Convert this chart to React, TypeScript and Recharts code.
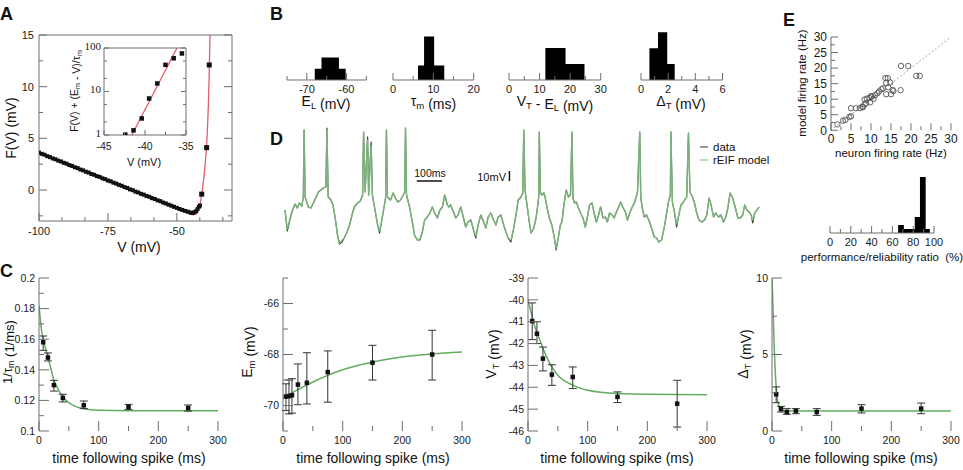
import React from 'react';
import { ComposedChart, Line, Scatter, XAxis, YAxis, Area, ErrorBar, ReferenceLine } from 'recharts';

const FONT = "'Liberation Sans', Arial, Helvetica, sans-serif";
const SERIF = "'Liberation Serif', 'Times New Roman', serif";
const AX = '#6e6e6e';
const GREEN = '#62ad5e';
const RED = '#e35d6a';

// ---------------- Panel A: F(V) ----------------
const aDots: number[][] = [
  [-100, 3.62], [-99, 3.5], [-98, 3.41], [-97, 3.27], [-96, 3.18], [-95, 3.05], [-94, 2.97], [-93, 2.84],
  [-92, 2.76], [-91, 2.63], [-90, 2.55], [-89, 2.41], [-88, 2.33], [-87, 2.2], [-86, 2.12], [-85, 1.98],
  [-84, 1.9], [-83, 1.77], [-82, 1.69], [-81, 1.55], [-80, 1.47], [-79, 1.34], [-78, 1.27], [-77, 1.13],
  [-76, 1.05], [-75, 0.92], [-74, 0.84], [-73, 0.71], [-72, 0.62], [-71, 0.5], [-70, 0.41], [-69, 0.28],
  [-68, 0.2], [-67, 0.06], [-66, -0.02], [-65, -0.16], [-64, -0.24], [-63, -0.37], [-62, -0.45], [-61, -0.58],
  [-60, -0.66], [-59, -0.79], [-58, -0.87], [-57, -1.0], [-56, -1.08], [-55, -1.21], [-54, -1.3], [-53, -1.42],
  [-52, -1.52], [-51, -1.63], [-50, -1.73], [-49, -1.84], [-48, -1.93], [-47, -2.03], [-46, -2.1], [-45, -2.18],
  [-44.3, -2.22], [-43.6, -2.15], [-43, -2.05], [-42.5, -1.85], [-42, -1.62], [-41.6, -1.5],
];
const aBig: number[][] = [[-41.0, -0.4], [-39.2, 4.1], [-38.25, 12.1]];
const aFit: number[][] = [
  [-100, 3.55], [-90, 2.48], [-80, 1.4], [-70, 0.33], [-60, -0.75], [-55, -1.3], [-50, -1.82], [-47, -2.15],
  [-45, -2.35], [-44, -2.4], [-43, -2.3], [-42.3, -2.0], [-41.8, -1.55], [-41.3, -0.95], [-41, -0.45],
  [-40.5, 0.55], [-40, 1.7], [-39.6, 2.9], [-39.2, 4.3], [-38.9, 5.9], [-38.6, 8.0], [-38.3, 11.0],
  [-38.05, 13.8], [-37.8, 16.5],
];
const aTicksX = [-100, -91.67, -83.33, -75, -66.67, -58.33, -50, -41.67, -33.33];
const aMajX = [-100, -75, -50];
const aTicksY = [-2.5, 0, 2.5, 5, 7.5, 10, 12.5, 15];
const aMajY = [0, 5, 10, 15];

// inset
const insPts: number[][] = [[-42.4, 1.02], [-41.4, 1.28], [-40.4, 2.4], [-39.5, 6.9], [-38.5, 15.3], [-37.5, 41], [-36.5, 58], [-35.5, 75]];
const insFit: number[][] = [[-41.6, 1], [-36.1, 100]];
const insTicksX = [-45, -42.5, -40, -37.5, -35];
const insMajX = [-45, -40, -35];
const insTicksY = [1, 2, 5, 10, 20, 50, 100];
const insMajY = [1, 10, 100];

// ---------------- Panel B: histograms (bin start, count) ----------------
const bEL: number[][] = [[-68, 1], [-66.3, 2], [-61.9, 1], [-60.2, 0]];
const bTau: number[][] = [[6.2, 1], [7.7, 3], [10.2, 1], [12.7, 0]];
const bVT: number[][] = [[11.9, 2], [18.5, 1], [24.7, 0]];
const bDT: number[][] = [[0.62, 2], [1.25, 3], [1.93, 1], [2.48, 0]];
const eHist: number[][] = [[65.5, 2], [71, 1], [76, 1], [81.5, 4], [86.5, 14], [92, 1], [96, 0]];

// ---------------- Panel D: voltage trace ----------------
const traceT = [
  8, 17, 35, 48, 57, 65, 75, 81, 84, 88,
  101, 111, 121, 132, 141, 151, 161, 171, 175, 180,
  191, 199, 208, 217, 225, 235, 244, 255, 265, 275,
  284, 297, 308, 317, 321, 327, 337, 341, 351, 356,
  368, 377, 385, 395, 404, 409, 412, 416, 428, 439,
  448, 457, 468, 479, 485, 488, 492, 505, 515, 524,
  535, 545, 555, 564, 575, 585, 595, 604, 615, 625,
  635, 644, 655, 661, 668, 679, 688, 697, 708, 719,
  728, 737, 748, 759, 768, 777, 788, 799, 808, 817,
  828, 839, 848, 857, 868, 879, 888, 897, 908, 919,
  928, 937, 948, 955, 959, 964, 972, 981, 988, 999,
  1008, 1015, 1019, 1021, 1025, 1031, 1039, 1044, 1052, 1061,
  1071, 1081, 1088, 1095, 1105, 1111, 1119, 1128, 1137, 1145,
  1151, 1155, 1161, 1168, 1177, 1185, 1195, 1204, 1212, 1221,
  1231, 1239, 1248, 1257, 1265, 1275, 1284, 1292, 1301, 1311,
  1319, 1328, 1337, 1345, 1355, 1364, 1372, 1381, 1391, 1401,
  1412, 1421, 1425, 1431, 1439, 1448, 1457, 1468, 1479, 1488,
  1497, 1508, 1519, 1528, 1537, 1543, 1545, 1551, 1559, 1568,
  1575, 1585, 1595, 1608, 1615, 1621, 1631, 1639, 1648, 1657,
  1668, 1679, 1688, 1697, 1705, 1715, 1724, 1735, 1745, 1755,
  1764, 1772, 1781, 1791, 1801, 1812, 1821, 1831, 1839, 1848,
  1857, 1865, 1871, 1879, 1888, 1897,
];
const traceData = [
  -50, -71, -52, -44, -48, -43, -46, -37, 30, -37,
  -47, -48, -43, -37, -32, -30, -28, -27, 32, -37,
  -40, -45, -58, -75, -84, -82, -78, -72, -65, -55,
  -47, -43, -41, -35, 28, -32, 23, -35, 18, -35,
  -52, -65, -73, -58, -45, -37, 30, -37, -40, -33,
  -38, -42, -40, -35, -32, 32, -35, -48, -62, -75,
  -80, -80, -72, -60, -57, -53, -47, -53, -58, -50,
  -47, -35, -45, -47, -45, -52, -58, -55, -47, -58,
  -67, -62, -60, -70, -78, -65, -55, -62, -68, -57,
  -53, -60, -65, -57, -55, -65, -72, -78, -82, -68,
  -55, -40, -37, -33, 30, -30, -45, -62, -73, -68,
  -58, -45, -35, 28, -32, -35, -33, -37, -48, -58,
  -65, -78, -90, -80, -65, -62, -45, -30, -37, -35,
  28, -38, -43, -42, -48, -53, -58, -67, -58, -45,
  -43, -53, -62, -55, -47, -58, -57, -62, -53, -55,
  -58, -52, -47, -42, -48, -52, -60, -53, -47, -42,
  -32, 28, -37, -48, -57, -55, -60, -68, -77, -78,
  -82, -80, -67, -53, -40, -35, 28, -42, -52, -67,
  -57, -45, -42, -37, 27, -32, -37, -43, -53, -60,
  -62, -60, -55, -38, -45, -57, -53, -57, -55, -62,
  -57, -48, -33, -38, -47, -58, -58, -55, -45, -50,
  -52, -55, -63, -53, -50, -47,
];
const traceModel = [
  -50, -69, -52, -44, -48, -43, -46, -37, 29, -37,
  -47, -48, -43, -37, -32, -30, -28, -27, 30, -37,
  -40, -45, -58, -75, -83, -80, -78, -72, -65, -55,
  -47, -43, -41, -35, 28, -32, 20, -35, 14, -35,
  -52, -65, -71, -58, -45, -37, 30, -37, -40, -33,
  -38, -42, -40, -35, -32, 32, -35, -48, -62, -75,
  -80, -79, -72, -60, -57, -53, -47, -53, -58, -50,
  -47, -35, -45, -47, -45, -52, -58, -55, -47, -58,
  -67, -62, -60, -70, -76, -65, -55, -62, -68, -57,
  -53, -60, -65, -57, -55, -65, -72, -78, -80, -68,
  -55, -40, -37, -33, 30, -30, -45, -62, -73, -68,
  -58, -45, -35, 28, -32, -35, -33, -37, -48, -58,
  -65, -78, -88, -80, -65, -62, -45, -30, -37, -35,
  28, -38, -43, -42, -48, -53, -58, -67, -58, -45,
  -43, -53, -62, -55, -47, -58, -57, -62, -53, -55,
  -58, -52, -47, -42, -48, -52, -60, -53, -47, -42,
  -32, 28, -37, -48, -57, -55, -60, -68, -77, -78,
  -82, -80, -67, -53, -40, -35, 28, -42, -52, -64,
  -57, -45, -42, -37, 27, -32, -37, -43, -53, -60,
  -62, -60, -55, -38, -45, -57, -53, -57, -55, -62,
  -57, -48, -33, -38, -47, -58, -58, -55, -45, -50,
  -52, -55, -60, -53, -50, -47,
];
const scaleBar100 = { t0: 533, t1: 633, v: -21 };
const scaleBar10 = { t: 902, v0: -21, v1: -11 };

// ---------------- Panel E: firing rates ----------------
const ePts: number[][] = [
  [1.6, 1.9], [3.0, 3.1], [3.6, 3.3], [4.6, 4.3], [5.0, 4.5], [5.0, 7.1], [6.2, 7.1], [7.2, 7.1], [7.8, 7.6],
  [8.0, 7.4], [8.4, 8.3], [8.8, 8.7], [8.4, 9.9], [9.0, 10.2], [9.8, 9.0], [9.6, 10.4], [10.2, 10.8],
  [10.6, 10.1], [10.0, 11.0], [11.0, 11.3], [11.6, 11.9], [12.0, 12.5], [12.6, 13.2], [13.0, 13.5],
  [13.6, 16.8], [14.2, 16.8], [13.8, 15.2], [14.8, 15.4], [13.8, 11.6], [15.0, 11.6], [15.4, 13.0],
  [14.3, 13.8], [15.6, 12.6], [17.4, 12.9], [17.5, 20.7], [19.3, 20.7], [21.3, 17.5], [22.2, 17.5],
];
const eDiag: number[][] = [[0, 0], [30, 30]];
const eTicks = [0, 2.5, 5, 7.5, 10, 12.5, 15, 17.5, 20, 22.5, 25, 27.5, 30];
const eMaj = [0, 5, 10, 15, 20, 25, 30];

// ---------------- Panel C: parameters vs time after spike [t, value, low, high] ----------------
const c1Pts: number[][] = [
  [7, 0.158, 0.1527, 0.1621], [15, 0.148, 0.1458, 0.151], [25, 0.13, 0.1261, 0.1331], [40, 0.1216, 0.119, 0.124],
  [75, 0.1168, 0.1146, 0.1196], [150, 0.1157, 0.114, 0.1174], [250, 0.115, 0.113, 0.117],
];
const c1Fit: number[][] = [
  [0, 0.182], [5, 0.1636], [10, 0.1553], [15, 0.1484], [20, 0.1407], [25, 0.1331], [30, 0.1288], [40, 0.1222],
  [50, 0.1185], [60, 0.1163], [70, 0.115], [80, 0.1142], [100, 0.1135], [150, 0.1133], [300, 0.1133],
];
const c2Pts: number[][] = [
  [5, -69.65, -70.2, -69.15], [10, -69.63, -70.33, -69.0], [15, -69.6, -70.3, -68.95], [25, -69.18, -69.97, -68.37],
  [40, -69.11, -69.94, -67.93], [75, -68.69, -69.87, -67.86], [150, -68.32, -69.0, -67.64], [250, -68.0, -69.0, -67.05],
];
const c2Fit: number[][] = [
  [0, -69.7], [10, -69.57], [25, -69.38], [50, -69.08], [75, -68.82], [100, -68.6], [125, -68.43], [150, -68.3],
  [175, -68.19], [200, -68.1], [250, -67.98], [300, -67.9],
];
const c3Pts: number[][] = [
  [7, -40.97, -41.82, -40.14], [15, -41.55, -42.0, -41.0], [25, -42.69, -43.25, -42.16], [40, -43.42, -43.91, -42.97],
  [75, -43.53, -44.06, -43.07], [150, -44.44, -44.7, -44.21], [250, -44.75, -45.82, -43.68],
];
const c3Fit: number[][] = [
  [0, -40.0], [5, -40.55], [10, -41.1], [20, -41.85], [30, -42.54], [40, -43.07], [50, -43.45], [75, -43.9],
  [100, -44.14], [150, -44.29], [200, -44.32], [300, -44.34],
];
const c4Pts: number[][] = [
  [7, 2.4, 1.85, 2.88], [15, 1.44, 1.24, 1.61], [25, 1.24, 1.09, 1.46], [40, 1.31, 1.13, 1.46],
  [75, 1.24, 1.02, 1.46], [150, 1.46, 1.18, 1.72], [250, 1.46, 1.13, 1.83],
];
const c4Fit: number[][] = [
  [0, 10], [2, 7.6], [4, 5.2], [6, 3.5], [8, 2.4], [10, 1.85], [13, 1.5], [16, 1.38], [20, 1.32], [30, 1.3], [300, 1.3],
];
const cTicksX = [0, 50, 100, 150, 200, 250, 300];
const cMajX = [0, 100, 200, 300];

// ---------------- helpers ----------------
const xy = (a: number[][]) => a.map((p) => ({ x: p[0], y: p[1] }));
const withErr = (a: number[][]) => a.map((p) => ({ x: p[0], y: p[1], e: [p[1] - p[2], p[3] - p[1]] }));
const near = (v: number, arr: number[]) => arr.some((a) => Math.abs(a - v) < 1e-6);

type TOpt = { labels?: boolean; fs?: number; gap?: number; font?: string; dy?: number };
function mkTick(side: string, majors: number[], maj: number, min: number, o: TOpt = {}) {
  const fs = o.fs ?? 11;
  const gap = o.gap ?? 4;
  const font = o.font ?? FONT;
  return (p: any) => {
    const v = Number(p.payload?.value);
    const isMaj = near(v, majors);
    const L = isMaj ? maj : min;
    const x = Number(p.x);
    const y = Number(p.y);
    const show = !!o.labels && isMaj;
    const txt = String(v);
    if (side === 'b')
      return (
        <g>
          <line x1={x} x2={x} y1={y} y2={y - L} stroke={AX} strokeWidth={1} />
          {show ? (
            <text x={x} y={y + gap + fs * 0.72} textAnchor="middle" fontSize={fs} fontFamily={font} fill="#1a1a1a">{txt}</text>
          ) : null}
        </g>
      );
    if (side === 't') return <g><line x1={x} x2={x} y1={y} y2={y + L} stroke={AX} strokeWidth={1} /></g>;
    if (side === 'l')
      return (
        <g>
          <line x1={x} x2={x + L} y1={y} y2={y} stroke={AX} strokeWidth={1} />
          {show ? (
            <text x={x - gap} y={y + fs * 0.36 + (o.dy ?? 0)} textAnchor="end" fontSize={fs} fontFamily={font} fill="#1a1a1a">{txt}</text>
          ) : null}
        </g>
      );
    return <g><line x1={x} x2={x - L} y1={y} y2={y} stroke={AX} strokeWidth={1} /></g>;
  };
}

// axes get a 1px size (0 would stop Recharts from drawing them); Frame removes that pixel from the margin
function xAx(id: string, orient: 'bottom' | 'top', domain: number[], ticks: number[], tick: any, line: boolean, dataKey?: string) {
  return (
    <XAxis key={'x' + id} xAxisId={id} orientation={orient} type="number" dataKey={dataKey} domain={domain as any}
      ticks={ticks} interval={0} tick={tick} tickLine={false} tickSize={0} tickMargin={0} height={1}
      axisLine={line ? { stroke: AX } : false} allowDataOverflow />
  );
}
function yAx(id: string, orient: 'left' | 'right', domain: number[], ticks: number[], tick: any, line: boolean, dataKey?: string, scale?: any) {
  return (
    <YAxis key={'y' + id} yAxisId={id} orientation={orient} type="number" dataKey={dataKey} domain={domain as any}
      ticks={ticks} interval={0} tick={tick} tickLine={false} tickSize={0} tickMargin={0} width={1}
      axisLine={line ? { stroke: AX } : false} allowDataOverflow scale={scale ?? 'auto'} />
  );
}

function Frame(props: { box: number[]; pad: number[]; ax?: string; children: React.ReactNode }) {
  const [x0, y0, x1, y1] = props.box;
  const [l, t, r, b] = props.pad;
  const ax = props.ax ?? '';
  const w = x1 - x0 + l + r;
  const h = y1 - y0 + t + b;
  const m = {
    top: t - (ax.includes('t') ? 1 : 0),
    right: r - (ax.includes('r') ? 1 : 0),
    bottom: b - (ax.includes('b') ? 1 : 0),
    left: l - (ax.includes('l') ? 1 : 0),
  };
  return (
    <div style={{ position: 'absolute', left: x0 - l, top: y0 - t, width: w, height: h }}>
      <ComposedChart width={w} height={h} margin={m}>
        {props.children}
      </ComposedChart>
    </div>
  );
}

const sq = (s: number, fill = '#111') => (p: any) => (
  <rect x={p.cx - s / 2} y={p.cy - s / 2} width={s} height={s} fill={fill} />
);
const ring = (p: any) => <circle cx={p.cx} cy={p.cy} r={2.7} fill="none" stroke="#555" strokeWidth={0.9} />;

function Hist(props: { box: number[]; xd: number[]; ticks: number[]; majors: number[]; rows: number[][]; ymax: number }) {
  return (
    <Frame box={props.box} pad={[14, 2, 14, 22]} ax="b">
      {xAx('b', 'bottom', props.xd, props.ticks, mkTick('b', props.majors, 7, 4, { labels: true, fs: 11, gap: 5 }), true, 'x')}
      <YAxis yAxisId="l" type="number" dataKey="y" domain={[0, props.ymax]} hide allowDataOverflow />
      <Area xAxisId="b" yAxisId="l" data={xy(props.rows)} dataKey="y" type="stepAfter" fill="#000" fillOpacity={1}
        stroke="none" baseValue={0} isAnimationActive={false} />
    </Frame>
  );
}

function CPanel(props: { x0: number; pts: number[][]; fit: number[][]; yd: number[]; yt: number[]; ym: number[] }) {
  return (
    <Frame box={[props.x0, 277.7, props.x0 + 179, 430.7]} pad={[40, 10, 16, 30]} ax="bl">
      {xAx('b', 'bottom', [0, 300], cTicksX, mkTick('b', cMajX, 10, 5, { labels: true, fs: 10.5, gap: 5 }), false, 'x')}
      {yAx('l', 'left', props.yd, props.yt, mkTick('l', props.ym, 10, 5, { labels: true, fs: 10.5, gap: 4 }), true, 'y')}
      <Line xAxisId="b" yAxisId="l" data={xy(props.fit)} dataKey="y" type="monotone" stroke={GREEN} strokeWidth={1.5}
        dot={false} isAnimationActive={false} />
      <Scatter xAxisId="b" yAxisId="l" data={withErr(props.pts)} dataKey="y" shape={sq(4.5)} isAnimationActive={false}>
        <ErrorBar dataKey="e" direction="y" width={4} stroke="#333" strokeWidth={1} />
      </Scatter>
    </Frame>
  );
}

const Sub = (p: { t: string }) => (
  <>
    <tspan fontSize="0.68em" dy="0.28em">{p.t}</tspan>
    <tspan dy="-0.28em">{''}</tspan>
  </>
);

export default function App() {
  const traceRows = traceT.map((t, i) => ({ t, d: traceData[i], m: traceModel[i] }));
  const txt = { fontFamily: FONT, fill: '#111' } as any;
  return (
    <div style={{ position: 'absolute', left: 0, top: 0, width: 963, height: 470, background: '#fff', overflow: 'hidden' }}>
      {/* A main */}
      <Frame box={[39, 35, 232, 221]} pad={[39, 35, 20, 30]} ax="btlr">
        {xAx('b', 'bottom', [-100, -30], aTicksX, mkTick('b', aMajX, 8, 4, { labels: true, fs: 11, gap: 6 }), true, 'x')}
        {xAx('t', 'top', [-100, -30], aTicksX, mkTick('t', aMajX, 8, 4), true)}
        {yAx('l', 'left', [-3, 15], aTicksY, mkTick('l', aMajY, 8, 4, { labels: true, fs: 11, gap: 5 }), true, 'y')}
        {yAx('r', 'right', [-3, 15], aTicksY, mkTick('r', aMajY, 8, 4), true)}
        <Line xAxisId="b" yAxisId="l" data={xy(aFit)} dataKey="y" type="monotone" stroke={RED} strokeWidth={1.3}
          dot={false} isAnimationActive={false} />
        <Scatter xAxisId="b" yAxisId="l" data={xy(aDots)} dataKey="y" shape={sq(4)} isAnimationActive={false} />
        <Scatter xAxisId="b" yAxisId="l" data={xy(aBig)} dataKey="y" shape={sq(5)} isAnimationActive={false} />
      </Frame>

      {/* A inset */}
      <div style={{ position: 'absolute', left: 104, top: 48, width: 82, height: 87, background: '#fff' }} />
      <Frame box={[104, 48, 186, 135]} pad={[22, 12, 10, 22]} ax="btlr">
        {xAx('b', 'bottom', [-45, -35], insTicksX, mkTick('b', insMajX, 5, 3, { labels: true, fs: 10.5, gap: 7 }), true, 'x')}
        {xAx('t', 'top', [-45, -35], insTicksX, mkTick('t', insMajX, 5, 3), true)}
        {yAx('l', 'left', [1, 100], insTicksY, mkTick('l', insMajY, 5, 3, { labels: true, fs: 11, gap: 3, font: SERIF, dy: -2 }), true, 'y', 'log')}
        {yAx('r', 'right', [1, 100], insTicksY, mkTick('r', insMajY, 5, 3), true, undefined, 'log')}
        <Line xAxisId="b" yAxisId="l" data={xy(insFit)} dataKey="y" type="linear" stroke={RED} strokeWidth={1.3}
          dot={false} isAnimationActive={false} />
        <Scatter xAxisId="b" yAxisId="l" data={xy(insPts)} dataKey="y" shape={sq(4.5)} isAnimationActive={false} />
      </Frame>

      {/* B histograms */}
      <Hist box={[286.7, 20, 366, 80]} xd={[-75, -55]} ticks={[-75, -70, -65, -60, -55]} majors={[-70, -60]} rows={bEL} ymax={5.36} />
      <Hist box={[393.3, 20, 474, 80]} xd={[0, 20]} ticks={[0, 5, 10, 15, 20]} majors={[0, 10, 20]} rows={bTau} ymax={4.14} />
      <Hist box={[509.3, 20, 601, 80]} xd={[0, 30]} ticks={[0, 5, 10, 15, 20, 25, 30]} majors={[0, 10, 20, 30]} rows={bVT} ymax={3.75} />
      <Hist box={[640.5, 20, 722, 80]} xd={[0, 6]} ticks={[0, 1, 2, 3, 4, 5, 6]} majors={[0, 2, 4, 6]} rows={bDT} ymax={3.77} />

      {/* D trace */}
      <Frame box={[283, 125, 760, 255]} pad={[0, 0, 0, 0]}>
        <XAxis xAxisId="b" type="number" dataKey="t" domain={[0, 1900]} hide allowDataOverflow />
        <YAxis yAxisId="l" type="number" domain={[-95, 35]} hide allowDataOverflow />
        <Line xAxisId="b" yAxisId="l" data={traceRows} dataKey="d" type="linear" stroke="#2f3a2f" strokeWidth={1.2}
          dot={false} isAnimationActive={false} strokeLinejoin="round" />
        <Line xAxisId="b" yAxisId="l" data={traceRows} dataKey="m" type="linear" stroke="#86c686" strokeWidth={1.5}
          strokeOpacity={0.85} dot={false} isAnimationActive={false} strokeLinejoin="round" />
        <ReferenceLine xAxisId="b" yAxisId="l" segment={[{ x: scaleBar100.t0, y: scaleBar100.v }, { x: scaleBar100.t1, y: scaleBar100.v }]}
          stroke="#111" strokeWidth={1.5} />
        <ReferenceLine xAxisId="b" yAxisId="l" segment={[{ x: scaleBar10.t, y: scaleBar10.v0 }, { x: scaleBar10.t, y: scaleBar10.v1 }]}
          stroke="#111" strokeWidth={1.5} />
      </Frame>

      {/* E scatter */}
      <Frame box={[831, 36.7, 951, 130]} pad={[30, 8, 10, 20]} ax="bl">
        {xAx('b', 'bottom', [0, 30], eTicks, mkTick('b', eMaj, 7, 4, { labels: true, fs: 12, gap: 4 }), false, 'x')}
        {yAx('l', 'left', [0, 30], eTicks, mkTick('l', eMaj, 7, 4, { labels: true, fs: 12, gap: 4 }), true, 'y')}
        <Line xAxisId="b" yAxisId="l" data={xy(eDiag)} dataKey="y" type="linear" stroke="#888" strokeWidth={1}
          strokeDasharray="1.5 2.5" dot={false} isAnimationActive={false} />
        <Scatter xAxisId="b" yAxisId="l" data={xy(ePts)} dataKey="y" shape={ring} isAnimationActive={false} />
      </Frame>

      {/* E histogram */}
      <Hist box={[830, 173.3, 934, 233.3]} xd={[0, 100]} ticks={[0, 10, 20, 30, 40, 50, 60, 70, 80, 90, 100]}
        majors={[0, 20, 40, 60, 80, 100]} rows={eHist} ymax={15} />

      {/* C panels */}
      <CPanel x0={39.3} pts={c1Pts} fit={c1Fit} yd={[0.1, 0.2]}
        yt={[0.1, 0.11, 0.12, 0.13, 0.14, 0.15, 0.16, 0.17, 0.18, 0.19, 0.2]} ym={[0.1, 0.12, 0.14, 0.16, 0.18, 0.2]} />
      <CPanel x0={283.3} pts={c2Pts} fit={c2Fit} yd={[-71, -65]} yt={[-71, -70, -69, -68, -67, -66, -65]} ym={[-70, -68, -66]} />
      <CPanel x0={527.7} pts={c3Pts} fit={c3Fit} yd={[-46, -39]} yt={[-46, -45, -44, -43, -42, -41, -40, -39]}
        ym={[-46, -45, -44, -43, -42, -41, -40, -39]} />
      <CPanel x0={771.7} pts={c4Pts} fit={c4Fit} yd={[0, 10]} yt={[0, 2.5, 5, 7.5, 10]} ym={[0, 5, 10]} />

      {/* text overlay */}
      <svg width={963} height={470} style={{ position: 'absolute', left: 0, top: 0, pointerEvents: 'none' }}>
        <g {...txt} fontSize={18} fontWeight="bold">
          <text x={0} y={20}>A</text>
          <text x={270} y={20}>B</text>
          <text x={0} y={277}>C</text>
          <text x={270} y={145}>D</text>
          <text x={783} y={26}>E</text>
        </g>
        <g {...txt} fontSize={14}>
          <text x={16} y={128} transform="rotate(-90 16 128)" textAnchor="middle">F(V) (mV)</text>
          <text x={139} y={252} textAnchor="middle">V (mV)</text>
        </g>
        <g {...txt} fontSize={10.5}>
          <text x={78} y={91} transform="rotate(-90 78 91)" textAnchor="middle">
            F(V) + (E<Sub t="m" /> - V)/τ<Sub t="m" />
          </text>
          <text x={144} y={166} textAnchor="middle" fontSize={11}>V (mV)</text>
        </g>
        <g {...txt} fontSize={14}>
          <text x={326} y={106} textAnchor="middle">E<Sub t="L" /> (mV)</text>
          <text x={433.5} y={106} textAnchor="middle">τ<Sub t="m" /> (ms)</text>
          <text x={555} y={106} textAnchor="middle">V<Sub t="T" /> - E<Sub t="L" /> (mV)</text>
          <text x={681} y={106} textAnchor="middle">Δ<Sub t="T" /> (mV)</text>
        </g>
        <g {...txt}>
          <text x={430} y={177} textAnchor="middle" fontSize={10.5}>100ms</text>
          <text x={506} y={181} textAnchor="end" fontSize={11}>10mV</text>
          <line x1={700} x2={708} y1={147} y2={147} stroke="#555" strokeWidth={1.2} />
          <text x={713} y={151} fontSize={11.5}>data</text>
          <line x1={700} x2={708} y1={160} y2={160} stroke="#a5d59e" strokeWidth={1.6} />
          <text x={713} y={164} fontSize={11.5}>rEIF model</text>
        </g>
        <g {...txt} fontSize={11.5}>
          <text x={806} y={83} transform="rotate(-90 806 83)" textAnchor="middle">model firing rate (Hz)</text>
          <text x={891} y={157} textAnchor="middle">neuron firing rate (Hz)</text>
          <text x={882} y={261} textAnchor="middle" style={{ whiteSpace: 'pre' }}>performance/reliability ratio  (%)</text>
        </g>
        <g {...txt} fontSize={14}>
          <text x={129} y={463} textAnchor="middle">time following spike (ms)</text>
          <text x={373} y={463} textAnchor="middle">time following spike (ms)</text>
          <text x={617} y={463} textAnchor="middle">time following spike (ms)</text>
          <text x={861} y={463} textAnchor="middle">time following spike (ms)</text>
          <text x={12} y={352} transform="rotate(-90 12 352)" textAnchor="middle" fontSize={13}>1/τ<Sub t="m" /> (1/ms)</text>
          <text x={252} y={352} transform="rotate(-90 252 352)" textAnchor="middle">E<Sub t="m" /> (mV)</text>
          <text x={496} y={354} transform="rotate(-90 496 354)" textAnchor="middle">V<Sub t="T" /> (mV)</text>
          <text x={748} y={354} transform="rotate(-90 748 354)" textAnchor="middle">Δ<Sub t="T" /> (mV)</text>
        </g>
      </svg>
    </div>
  );
}
